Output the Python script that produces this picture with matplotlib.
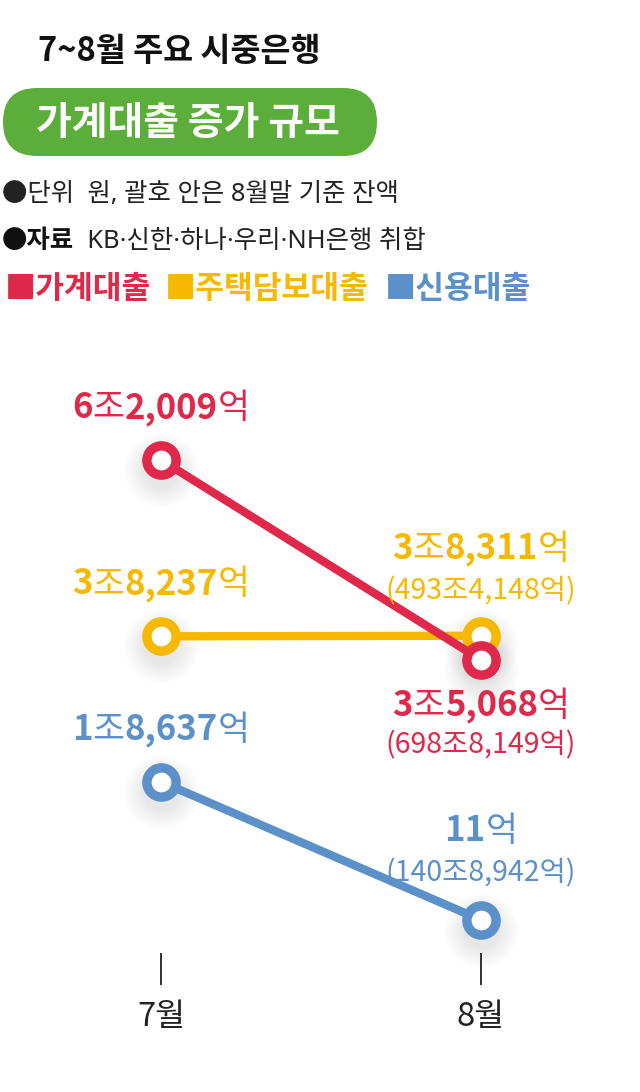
import matplotlib
matplotlib.use('Agg')
import matplotlib.pyplot as plt
import matplotlib.transforms as mtransforms
from matplotlib.offsetbox import TextArea, HPacker, AnnotationBbox
from matplotlib.patches import FancyBboxPatch

plt.rcParams['font.family'] = ['Noto Sans CJK KR', 'DejaVu Sans']
LATIN_FIRST = ['Noto Sans', 'Noto Sans CJK KR', 'DejaVu Sans']

# ---------------- data ----------------
months = ['7월', '8월']
series_names = ['가계대출', '주택담보대출', '신용대출']
household = [62009, 35068]     # 억 원
mortgage = [38237, 38311]
credit = [18637, 11]
balances_aug = ['698조8,149억', '493조4,148억', '140조8,942억']
colors = ['#E0284B', '#F6B800', '#5B90C8']

title = '7~8월 주요 시중은행'
subtitle = '가계대출 증가 규모'
note1 = '●단위  원, 괄호 안은 8월말 기준 잔액'
note2_bold = '●자료'
note2 = '  KB·신한·하나·우리·NH은행 취합'

W, H = 640, 1092
fig = plt.figure(figsize=(W / 100, H / 100), dpi=100)
fig.patch.set_facecolor('white')

ax = fig.add_axes([0, (H - 920) / H, 1, (920 - 460) / H])
ax.set_ylim(0, 62000)
ax.set_xlim(-161 / 320, (W - 161) / 320)
for s in ax.spines.values():
    s.set_visible(False)
ax.spines['bottom'].set_position(('outward', 24))
ax.set_yticks([])
ax.set_xticks([0, 1], months)
ax.tick_params(axis='x', length=23, width=1.3, color='#222222', pad=11,
               labelsize=23.5, labelcolor='#222222')

xs = [0, 1]
series = [household, mortgage, credit]

# soft shadows under markers
shadow_tr = ax.transData + mtransforms.ScaledTranslation(0, -10 / 100, fig.dpi_scale_trans)
for vals in series:
    for ms in range(26, 56, 4):
        ax.plot(xs, vals, linestyle='none', marker='o', ms=ms, mfc='#000000',
                mec='none', alpha=0.013, transform=shadow_tr, clip_on=False, zorder=1)

order = [1, 2, 0]  # mortgage, credit, then household on top
for i in order:
    ax.plot(xs, series[i], color=colors[i], lw=6, solid_capstyle='round',
            marker='o', ms=21, mfc='white', mec=colors[i], mew=6.8,
            clip_on=False, zorder=3 + order.index(i))


def value_parts(v):
    jo, eok = divmod(v, 10000)
    parts = []
    if jo:
        parts += [(str(jo), True), ('조', False)]
    parts += [(f'{eok:,}', True), ('억', False)]
    return parts


def add_label(x, y, parts, color, dy_px, size, family=None):
    children = []
    for txt, b in parts:
        props = dict(fontsize=size, color=color, fontweight='bold' if b else 'normal')
        if family:
            props['family'] = family
        children.append(TextArea(txt, textprops=props))
    pack = HPacker(children=children, pad=0, sep=0, align='baseline')
    ab = AnnotationBbox(pack, (x, y), xybox=(0, dy_px * 0.72), boxcoords='offset points',
                        frameon=False, box_alignment=(0.5, 0.5), pad=0,
                        annotation_clip=False, zorder=10)
    ax.add_artist(ab)


# July labels (above points)
for i, vals in enumerate(series):
    add_label(0, vals[0], value_parts(vals[0]), colors[i], 52, 25)

# August labels
aug_offsets = {0: (-46, -86), 1: (87, 44), 2: (89, 47)}
for i, vals in enumerate(series):
    main_dy, sub_dy = aug_offsets[i]
    add_label(1, vals[1], value_parts(vals[1]), colors[i], main_dy, 25)
    add_label(1, vals[1], [('(' + balances_aug[i] + ')', False)], colors[i], sub_dy, 20.5)

# ---------------- header ----------------
fig.text(38 / W, 1 - 52 / H, title, fontsize=23.5, fontweight='bold', style='italic',
         color='#111111', va='center', ha='left')

pill = FancyBboxPatch((3, H - 156), 374, 68,
                      boxstyle='round,pad=0,rounding_size=34',
                      transform=mtransforms.IdentityTransform(),
                      facecolor='#5BAE3A', edgecolor='none')
fig.add_artist(pill)
fig.text(188 / W, 1 - 123 / H, subtitle, fontsize=28, fontweight='bold',
         color='white', va='center', ha='center')

fig.text(2 / W, 1 - 195 / H, note1, fontsize=18.3, color='#222222', va='center', ha='left',
         family=LATIN_FIRST)
pack2 = HPacker(children=[
    TextArea(note2_bold, textprops=dict(fontsize=18.3, fontweight='bold', color='#111111')),
    TextArea(note2, textprops=dict(fontsize=18.3, color='#222222', family=LATIN_FIRST))],
    pad=0, sep=0, align='baseline')
ab2 = AnnotationBbox(pack2, (2, H - 240), xycoords='figure pixels', frameon=False,
                     box_alignment=(0, 0.5), pad=0, annotation_clip=False)
ax.add_artist(ab2)

legend_x = [5, 165, 385]
for name, c, lx in zip(series_names, colors, legend_x):
    fig.text(lx / W, 1 - 289 / H, '■' + name, fontsize=22.5, fontweight='bold',
             color=c, va='center', ha='left')

fig.savefig('out.png', dpi=100, facecolor='white')
